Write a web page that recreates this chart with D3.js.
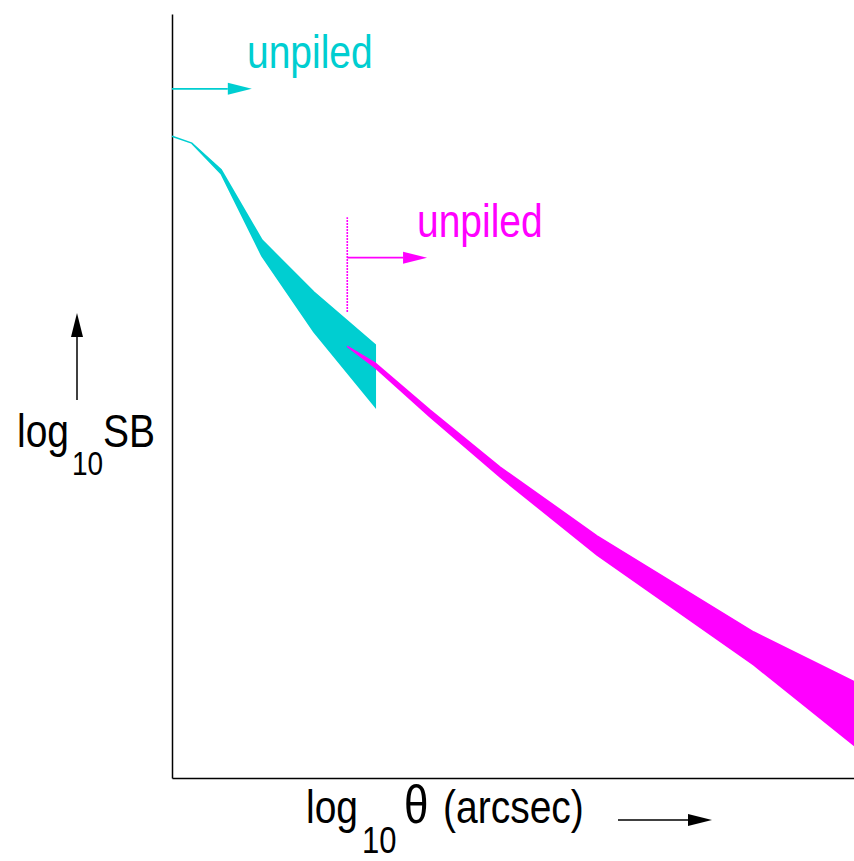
<!DOCTYPE html>
<html>
<head>
<meta charset="utf-8">
<script src="https://cdn.jsdelivr.net/npm/d3@7"></script>
<style>
  html, body { margin: 0; padding: 0; background: #fff; }
  svg { display: block; }
  text { font-family: "Liberation Sans", Arial, Helvetica, sans-serif; }
</style>
</head>
<body>
<svg id="chart" width="854" height="861"></svg>
<script>
// ---- data (abstract log units, no ticks shown) ----
const cyanTheta = [0, 2.9, 7.2, 13.2, 20.8, 29.8];
const cyanHigh  = [84.0, 83.1, 79.6, 70.4, 63.6, 56.7];
const cyanLow   = [84.0, 83.1, 79.1, 68.3, 58.4, 48.6];

const magentaTheta = [25.7, 29.8, 37.8, 48.1, 62.3, 85.3, 100];
const magentaHigh  = [56.5, 54.3, 48.2, 40.7, 31.7, 19.1, 12.6];
const magentaLow   = [56.5, 53.7, 47.3, 39.4, 29.2, 14.8, 4.3];

// unpiled markers: [xStart, xEnd, y]
const cyanUnpiled = [0, 11.7, 90.2];
const magentaUnpiled = [25.7, 37.4, 68.1];
const magentaCut = [25.7, 61.0, 73.4]; // x, y0, y1 (dotted boundary)

const labels = { unpiled: "unpiled" };

// ---- layout ----
const svg = d3.select("#chart");
const x = d3.scaleLinear().domain([0, 100]).range([172, 854]);
const y = d3.scaleLinear().domain([0, 100]).range([778, 14]);

const CYAN = "#00CED1", MAGENTA = "#FF00FF";

// axes (no ticks)
svg.append("g").attr("transform", `translate(0,${y(0)})`)
  .call(d3.axisBottom(x).ticks(0).tickSize(0))
  .call(g => g.select(".domain").attr("stroke", "#000").attr("stroke-width", 1.5));
svg.append("g").attr("transform", `translate(${x(0)},0)`)
  .call(d3.axisLeft(y).ticks(0).tickSize(0))
  .call(g => g.select(".domain").attr("stroke", "#000").attr("stroke-width", 1.5));

// bands
function band(thetas, hi, lo, color) {
  const data = thetas.map((t, i) => ({ t, hi: hi[i], lo: lo[i] }));
  const area = d3.area().x(d => x(d.t)).y0(d => y(d.lo)).y1(d => y(d.hi));
  svg.append("path").datum(data).attr("d", area)
    .attr("fill", color).attr("stroke", color).attr("stroke-width", 1.6)
    .attr("stroke-linejoin", "miter");
}
band(cyanTheta, cyanHigh, cyanLow, CYAN);
band(magentaTheta, magentaHigh, magentaLow, MAGENTA);

// arrows
function arrow(x1, y1, x2, y2, color, w, headLen, headHalf) {
  const ang = Math.atan2(y2 - y1, x2 - x1);
  const bx = x2 - headLen * Math.cos(ang), by = y2 - headLen * Math.sin(ang);
  svg.append("line").attr("x1", x1).attr("y1", y1).attr("x2", bx).attr("y2", by)
    .attr("stroke", color).attr("stroke-width", w);
  const px = -Math.sin(ang) * headHalf, py = Math.cos(ang) * headHalf;
  svg.append("path")
    .attr("d", `M${x2},${y2}L${bx + px},${by + py}L${bx - px},${by - py}Z`)
    .attr("fill", color);
}
arrow(x(cyanUnpiled[0]), y(cyanUnpiled[2]), x(cyanUnpiled[1]), y(cyanUnpiled[2]), CYAN, 1.8, 24, 6);
arrow(x(magentaUnpiled[0]), y(magentaUnpiled[2]), x(magentaUnpiled[1]), y(magentaUnpiled[2]), MAGENTA, 1.8, 24, 6);

svg.append("line")
  .attr("x1", x(magentaCut[0])).attr("x2", x(magentaCut[0]))
  .attr("y1", y(magentaCut[1])).attr("y2", y(magentaCut[2]))
  .attr("stroke", MAGENTA).attr("stroke-width", 1.6).attr("stroke-dasharray", "2,1");

// text helper with vertical stretch
function stretched(tx, ty, color) {
  return svg.append("text")
    .attr("transform", `translate(${tx},${ty}) scale(1,1.2)`)
    .attr("fill", color).attr("font-size", 39);
}
stretched(247, 68, CYAN).text(labels.unpiled);
stretched(417, 237, MAGENTA).text(labels.unpiled);

// y label
const yl = stretched(17, 447, "#000");
yl.append("tspan").text("log");
yl.append("tspan").attr("x", 55).attr("dy", 23.3).attr("font-size", 28).text("10");
yl.append("tspan").attr("x", 86).attr("dy", -23.3).text("SB");
arrow(77, 400, 77, 313, "#000", 1.5, 24, 6);

// x label
const xl = stretched(306, 823, "#000");
xl.append("tspan").text("log");
xl.append("tspan").attr("x", 56).attr("dy", 25).attr("font-size", 31).text("10");
xl.append("tspan").attr("x", 98).attr("dy", -25).attr("font-size", 44).text("θ");
xl.append("tspan").attr("x", 137).attr("font-size", 39).text("(arcsec)");
arrow(618, 820, 712, 820, "#000", 1.5, 24, 6);
</script>
</body>
</html>
